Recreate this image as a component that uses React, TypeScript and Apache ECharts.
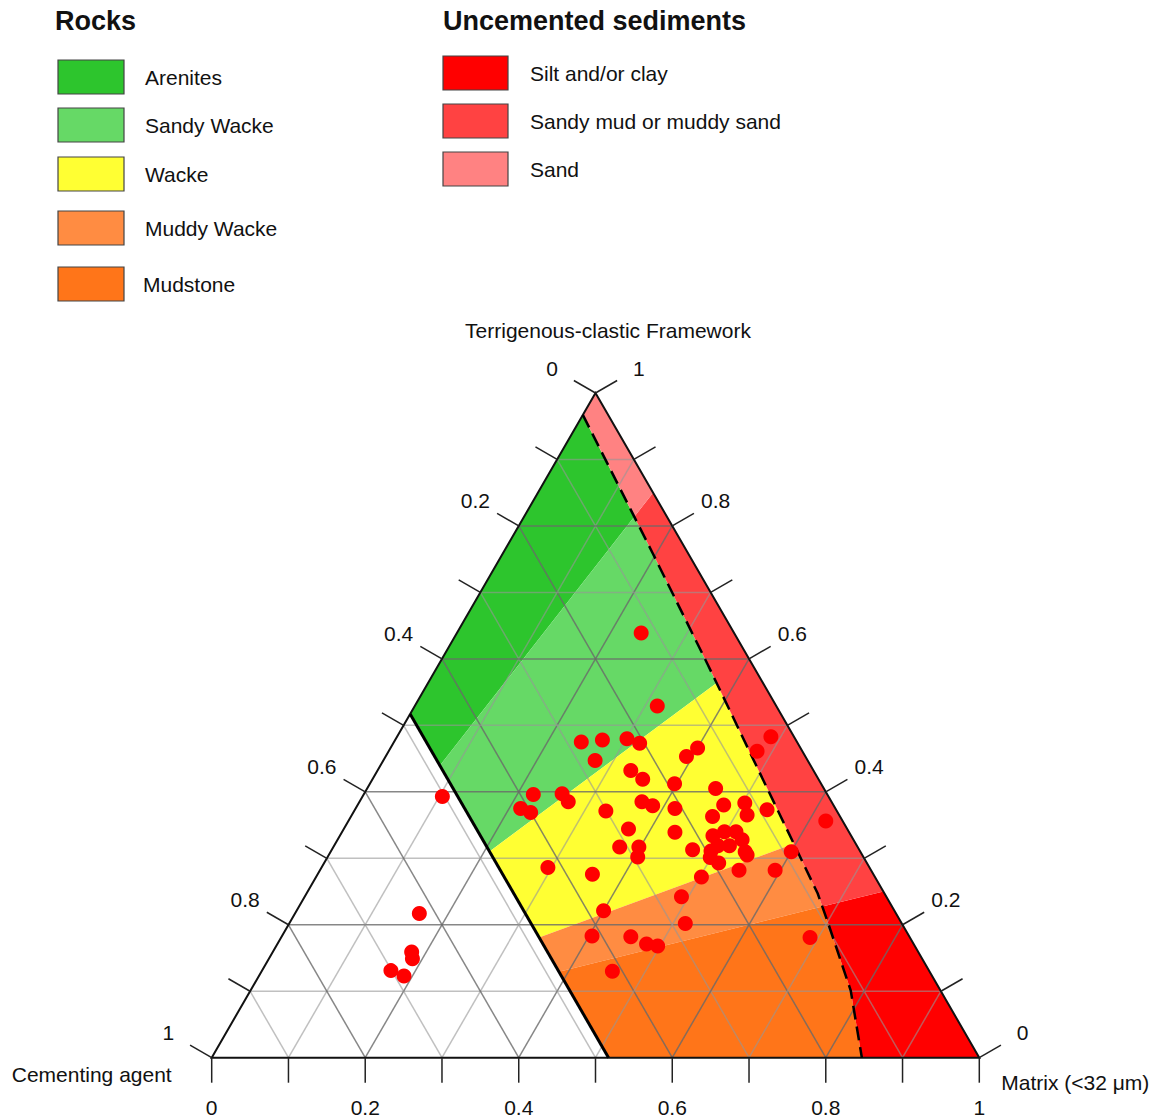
import { useEffect, useRef } from "react";
import * as echarts from "echarts";

// ---- Sample compositions (fractions) ----
const framework = [
  0.639, 0.529, 0.475, 0.478, 0.48, 0.473, 0.447, 0.453, 0.466, 0.432, 0.419, 0.412, 0.405,
  0.396, 0.397, 0.385, 0.375, 0.369, 0.385, 0.379, 0.375, 0.38, 0.383, 0.373, 0.363, 0.365,
  0.371, 0.344, 0.339, 0.317, 0.317, 0.302, 0.313, 0.311, 0.293, 0.305, 0.286, 0.276, 0.272,
  0.282, 0.282, 0.31, 0.242, 0.461, 0.483, 0.356, 0.393, 0.217, 0.159, 0.149, 0.131, 0.123,
  0.221, 0.202, 0.183, 0.182, 0.171, 0.168, 0.13, 0.181,
  0.334, 0.34, 0.34, 0.328, 0.319, 0.319, 0.31, 0.301,
];
const matrix = [
  0.24, 0.316, 0.244, 0.27, 0.301, 0.321, 0.276, 0.392, 0.4, 0.33, 0.352, 0.397, 0.454,
  0.221, 0.258, 0.272, 0.215, 0.231, 0.368, 0.385, 0.416, 0.477, 0.503, 0.537, 0.471, 0.515,
  0.328, 0.371, 0.434, 0.373, 0.398, 0.404, 0.47, 0.495, 0.514, 0.545, 0.295, 0.358, 0.502,
  0.546, 0.593, 0.6, 0.491, 0.48, 0.487, 0.622, 0.104, 0.162, 0.181, 0.187, 0.168, 0.189,
  0.4, 0.516, 0.404, 0.455, 0.481, 0.497, 0.457, 0.689,
  0.486, 0.498, 0.513, 0.527, 0.515, 0.5, 0.54, 0.499,
];
const cement = [
  0.121, 0.155, 0.281, 0.252, 0.219, 0.206, 0.277, 0.155, 0.134, 0.238, 0.229, 0.191, 0.141,
  0.383, 0.345, 0.343, 0.41, 0.4, 0.247, 0.236, 0.209, 0.143, 0.114, 0.09, 0.166, 0.12,
  0.301, 0.285, 0.227, 0.31, 0.285, 0.294, 0.217, 0.194, 0.193, 0.15, 0.419, 0.366, 0.226,
  0.172, 0.125, 0.09, 0.267, 0.059, 0.03, 0.022, 0.503, 0.621, 0.66, 0.664, 0.701, 0.688,
  0.379, 0.282, 0.413, 0.363, 0.348, 0.335, 0.413, 0.13,
  0.18, 0.162, 0.147, 0.145, 0.166, 0.181, 0.15, 0.2,
];

// ---- Classification ----
const rockNames = ["Arenites", "Sandy Wacke", "Wacke", "Muddy Wacke", "Mudstone"];
const rockColors = ["#2dc52d", "#66d966", "#ffff33", "#ff8c42", "#ff7519"];
const rockLimits = [0, 0.15, 0.4, 0.65, 0.75, 1]; // matrix / (framework + matrix)
const sedNames = ["Silt and/or clay", "Sandy mud or muddy sand", "Sand"];
const sedColors = ["#ff0000", "#ff4242", "#ff8282"];
const sedLimits = [1, 0.75, 0.15, 0]; // matrix / (framework + matrix), same order as names
const cementLimit = 0.483;
// dashed boundary rocks / uncemented sediments (framework, matrix)
const boundaryF = [0.967, 0.759, 0.592, 0.247, 0.206, 0.101, 0];
const boundaryM = [0, 0.195, 0.35, 0.666, 0.699, 0.782, 0.847];

// ---- Axes ----
const tickValues = [0, 0.1, 0.2, 0.3, 0.4, 0.5, 0.6, 0.7, 0.8, 0.9, 1];
const labelValues = [0, 0.2, 0.4, 0.6, 0.8, 1];
const labelTexts = ["0", "0.2", "0.4", "0.6", "0.8", "1"];
const titleTop = "Terrigenous-clastic Framework";
const titleLeft = "Cementing agent";
const titleRight = "Matrix (<32 \u03bcm)";

const S = Math.sqrt(3) / 2;
const toXY = (F: number, M: number) => [M + F / 2, F * S];
const FONT = "21px 'Liberation Sans', Arial, sans-serif";

function ratio(F: number, M: number) {
  return F + M === 0 ? 0 : M / (F + M);
}
function boundaryAt(k: number): number[] {
  for (let i = 0; i < boundaryF.length - 1; i++) {
    const F0 = boundaryF[i], M0 = boundaryM[i], F1 = boundaryF[i + 1], M1 = boundaryM[i + 1];
    const r0 = ratio(F0, M0), r1 = ratio(F1, M1);
    if (k >= r0 - 1e-9 && k <= r1 + 1e-9) {
      const dF = F1 - F0, dM = M1 - M0;
      const den = dM - k * (dF + dM);
      const t = Math.abs(den) < 1e-12 ? 0 : (k * (F0 + M0) - M0) / den;
      return [F0 + t * dF, M0 + t * dM];
    }
  }
  return [boundaryF[boundaryF.length - 1], boundaryM[boundaryM.length - 1]];
}
function boundaryBetween(k1: number, k2: number) {
  const out: number[][] = [];
  for (let i = 0; i < boundaryF.length; i++) {
    const r = ratio(boundaryF[i], boundaryM[i]);
    if (r > k1 + 1e-9 && r < k2 - 1e-9) out.push([boundaryF[i], boundaryM[i]]);
  }
  return out;
}
function rockPolygon(k1: number, k2: number) {
  const c = cementLimit;
  return [
    [(1 - c) * (1 - k1), (1 - c) * k1],
    boundaryAt(k1),
    ...boundaryBetween(k1, k2),
    boundaryAt(k2),
    [(1 - c) * (1 - k2), (1 - c) * k2],
  ];
}
function sedPolygon(k1: number, k2: number) {
  return [[1 - k1, k1], boundaryAt(k1), ...boundaryBetween(k1, k2), boundaryAt(k2), [1 - k2, k2]];
}

const regions: { poly: number[][]; color: string }[] = [];
rockNames.forEach((_, i) => regions.push({ poly: rockPolygon(rockLimits[i], rockLimits[i + 1]), color: rockColors[i] }));
sedNames.forEach((_, i) => regions.push({ poly: sedPolygon(sedLimits[i + 1], sedLimits[i]), color: sedColors[i] }));

export default function App() {
  const ref = useRef<HTMLDivElement>(null);
  useEffect(() => {
    const chart = echarts.init(ref.current!, null, { renderer: "svg" });

    const regionSeries = {
      type: "custom",
      silent: true,
      z: 1,
      data: regions.map(() => [0, 0]),
      renderItem: (params: any, api: any) => {
        const reg = regions[params.dataIndex];
        return {
          type: "polygon",
          shape: { points: reg.poly.map(([F, M]) => api.coord(toXY(F, M))) },
          style: { fill: reg.color, stroke: null },
        };
      },
    };

    const frameSeries = {
      type: "custom",
      silent: true,
      z: 3,
      data: [[0, 0]],
      renderItem: (_params: any, api: any) => {
        const P = (F: number, M: number) => api.coord(toXY(F, M));
        const children: any[] = [];
        const line = (a: number[], b: number[], stroke: string, lw: number) =>
          children.push({ type: "line", shape: { x1: a[0], y1: a[1], x2: b[0], y2: b[1] }, style: { stroke, lineWidth: lw } });
        // grid lines
        tickValues.slice(1, -1).forEach((v, i) => {
          const major = (i + 1) % 2 === 0;
          const col = major ? "rgba(105,105,105,0.8)" : "rgba(150,150,150,0.6)";
          line(P(v, 0), P(v, 1 - v), col, 1.5);
          line(P(1 - v, v), P(0, v), col, 1.5);
          line(P(1 - v, 0), P(0, 1 - v), col, 1.5);
        });
        // triangle border
        children.push({
          type: "polygon",
          shape: { points: [P(1, 0), P(0, 0), P(0, 1)] },
          style: { fill: null, stroke: "#111", lineWidth: 2 },
        });
        // cement limit line
        line(P(1 - cementLimit, 0), P(0, 1 - cementLimit), "#000", 3);
        // dashed boundary
        children.push({
          type: "polyline",
          shape: { points: boundaryF.map((F, i) => P(F, boundaryM[i])) },
          style: { fill: null, stroke: "#000", lineWidth: 2.5, lineDash: [14, 7] },
        });
        // ticks and labels
        const tl = 25, lo = 50;
        const dirs = {
          left: [-S, -0.5],
          right: [S, -0.5],
          bottom: [0, 1],
        };
        const tick = (p: number[], d: number[]) =>
          line(p, [p[0] + d[0] * tl, p[1] + d[1] * tl], "#222", 1.5);
        tickValues.forEach((v) => {
          tick(P(1 - v, 0), dirs.left); // cementing agent
          tick(P(v, 1 - v), dirs.right); // framework
          tick(P(0, v), dirs.bottom); // matrix
        });
        const text = (p: number[], t: string, align: string) =>
          children.push({
            type: "text",
            x: p[0],
            y: p[1],
            style: { text: t, font: FONT, fill: "#111", align, textAlign: align, verticalAlign: "middle", textVerticalAlign: "middle" },
          });
        labelValues.forEach((v, i) => {
          const a = P(1 - v, 0);
          text([a[0] + dirs.left[0] * lo, a[1] + dirs.left[1] * lo], labelTexts[i], "center");
          const b = P(v, 1 - v);
          text([b[0] + dirs.right[0] * lo, b[1] + dirs.right[1] * lo], labelTexts[i], "center");
          const c = P(0, v);
          text([c[0], c[1] + 50], labelTexts[i], "center");
        });
        const top = P(1, 0), bl = P(0, 0), br = P(0, 1);
        text([top[0] + 12.5, top[1] - 63], titleTop, "center");
        text([bl[0] - 40, bl[1] + 17], titleLeft, "right");
        text([br[0] + 22, br[1] + 25], titleRight, "left");
        return { type: "group", children };
      },
    };

    const scatterSeries = {
      type: "scatter",
      z: 10,
      symbol: "circle",
      symbolSize: 15,
      itemStyle: { color: "#f00", opacity: 1 },
      data: framework.map((F, i) => ({ value: toXY(F, matrix[i]), cement: cement[i] })),
    };

    const BOLD = "bold 27px 'Liberation Sans', Arial, sans-serif";
    const legendGraphics: any[] = [];
    legendGraphics.push({
      type: "text", x: 55, y: 21,
      style: { text: "Rocks", font: BOLD, fill: "#111", verticalAlign: "middle", textVerticalAlign: "middle" },
    });
    const rockBoxY = [60, 108, 157, 211, 267];
    rockNames.forEach((n, i) => {
      legendGraphics.push({ type: "rect", shape: { x: 58, y: rockBoxY[i], width: 66, height: 34 }, style: { fill: rockColors[i], stroke: "#444", lineWidth: 1.2 } });
      legendGraphics.push({ type: "text", x: i === 4 ? 143 : 145, y: rockBoxY[i] + 17, style: { text: n, font: FONT, fill: "#111", verticalAlign: "middle", textVerticalAlign: "middle" } });
    });
    legendGraphics.push({
      type: "text", x: 443, y: 21,
      style: { text: "Uncemented sediments", font: BOLD, fill: "#111", verticalAlign: "middle", textVerticalAlign: "middle" },
    });
    const sedBoxY = [56, 104, 152];
    sedNames.forEach((n, i) => {
      legendGraphics.push({ type: "rect", shape: { x: 443, y: sedBoxY[i], width: 65, height: 34 }, style: { fill: sedColors[i], stroke: "#444", lineWidth: 1.2 } });
      legendGraphics.push({ type: "text", x: 530, y: sedBoxY[i] + 17, style: { text: n, font: FONT, fill: "#111", verticalAlign: "middle", textVerticalAlign: "middle" } });
    });

    chart.setOption({
      animation: false,
      backgroundColor: "#fff",
      grid: { left: 211.7, top: 393, width: 767.6, height: 664.7 },
      xAxis: { type: "value", min: 0, max: 1, show: false },
      yAxis: { type: "value", min: 0, max: S, show: false },
      graphic: legendGraphics,
      series: [regionSeries, frameSeries, scatterSeries],
    });
    return () => chart.dispose();
  }, []);
  return (
    <div
      ref={ref}
      style={{ position: "absolute", left: 0, top: 0, width: 1156, height: 1119 }}
    />
  );
}
